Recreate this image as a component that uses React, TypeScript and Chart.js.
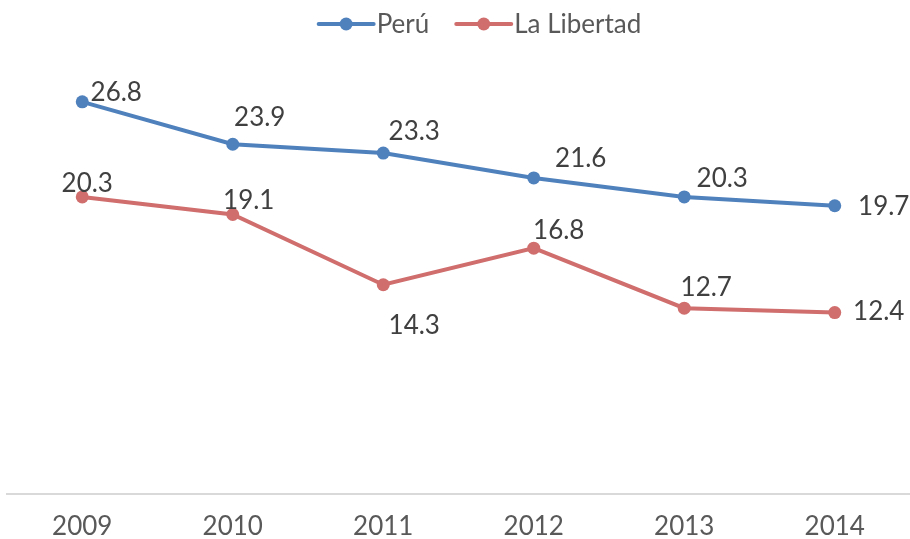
import React, { useEffect, useRef } from "react";
import { Chart, registerables } from "chart.js";

Chart.register(...registerables);

const years = ["2009", "2010", "2011", "2012", "2013", "2014"];
const peru = [26.8, 23.9, 23.3, 21.6, 20.3, 19.7];
const laLibertad = [20.3, 19.1, 14.3, 16.8, 12.7, 12.4];
const seriesNames = ["Perú", "La Libertad"];
const seriesColors = ["#4f81bd", "#cf6e6d"];

// manual label offsets (px from the point), like Excel's hand-placed labels
const peruLabelOffsets = [[34, -9], [27, -27], [31, -21], [47, -19], [38, -18], [49, 1]];
const libLabelOffsets = [[5, -13], [16, -14], [31, 41], [25, -18], [22, -21], [44, -1]];

const FONT = "Lato, 'Open Sans', sans-serif";

const labelPlugin = {
  id: "pointLabels",
  afterDatasetsDraw(chart: any) {
    const ctx = chart.ctx;
    const offsets = [peruLabelOffsets, libLabelOffsets];
    ctx.save();
    ctx.font = `26px ${FONT}`;
    ctx.fillStyle = "#404040";
    ctx.textAlign = "center";
    ctx.textBaseline = "middle";
    chart.data.datasets.forEach((ds: any, di: number) => {
      const meta = chart.getDatasetMeta(di);
      meta.data.forEach((pt: any, i: number) => {
        const [dx, dy] = offsets[di][i];
        ctx.fillText(ds.data[i].toFixed(1), pt.x + dx, pt.y + dy);
      });
    });
    ctx.restore();
  },
};

const legendPlugin = {
  id: "customLegend",
  afterDraw(chart: any) {
    const ctx = chart.ctx;
    ctx.save();
    ctx.font = `26px ${FONT}`;
    const lineW = 55;
    const textGap = 3;
    const itemGap = 27;
    const widths = seriesNames.map((n) => lineW + textGap + ctx.measureText(n).width);
    const total = widths.reduce((a, b) => a + b, 0) + itemGap * (seriesNames.length - 1);
    let x = chart.width / 2 + 25 - total / 2;
    const y = 24;
    seriesNames.forEach((n, i) => {
      ctx.strokeStyle = seriesColors[i];
      ctx.lineWidth = 4;
      ctx.lineCap = "round";
      ctx.beginPath();
      ctx.moveTo(x, y);
      ctx.lineTo(x + lineW, y);
      ctx.stroke();
      ctx.fillStyle = seriesColors[i];
      ctx.beginPath();
      ctx.arc(x + lineW / 2, y, 6.5, 0, Math.PI * 2);
      ctx.fill();
      ctx.fillStyle = "#595959";
      ctx.textAlign = "left";
      ctx.textBaseline = "middle";
      ctx.fillText(n, x + lineW + textGap, y + 1);
      x += widths[i] + itemGap;
    });
    ctx.restore();
  },
};

export default function App() {
  const ref = useRef<HTMLCanvasElement>(null);
  useEffect(() => {
    if (!ref.current) return;
    const chart = new Chart(ref.current, {
      type: "line",
      data: {
        labels: years,
        datasets: [
          {
            label: seriesNames[0],
            data: peru,
            borderColor: seriesColors[0],
            backgroundColor: seriesColors[0],
            borderWidth: 4,
            pointRadius: 6.5,
            pointBorderWidth: 0,
            tension: 0,
          },
          {
            label: seriesNames[1],
            data: laLibertad,
            borderColor: seriesColors[1],
            backgroundColor: seriesColors[1],
            borderWidth: 4,
            pointRadius: 6.5,
            pointBorderWidth: 0,
            tension: 0,
          },
        ],
      },
      options: {
        animation: false,
        responsive: false,
        layout: { autoPadding: false, padding: { top: 55, left: 7, right: -2, bottom: 0 } },
        plugins: { legend: { display: false }, tooltip: { enabled: false } },
        scales: {
          x: {
            offset: true,
            grid: { display: false, drawTicks: false },
            border: { display: true, color: "#d9d9d9", width: 2 },
            ticks: {
              color: "#595959",
              font: { family: FONT, size: 26, lineHeight: 1 },
              padding: 20,
            },
            afterFit: (s: any) => {
              s.height = 45;
              s.paddingLeft = 0;
              s.paddingRight = 0;
            },
          },
          y: {
            display: false,
            min: 0,
            max: 30,
          },
        },
      },
      plugins: [labelPlugin, legendPlugin],
    });
    return () => chart.destroy();
  }, []);
  return (
    <div style={{ position: "fixed", left: 0, top: 0, width: 910, height: 539, background: "#fff" }}>
      <canvas ref={ref} width={910} height={539} style={{ width: 910, height: 539 }} />
    </div>
  );
}
